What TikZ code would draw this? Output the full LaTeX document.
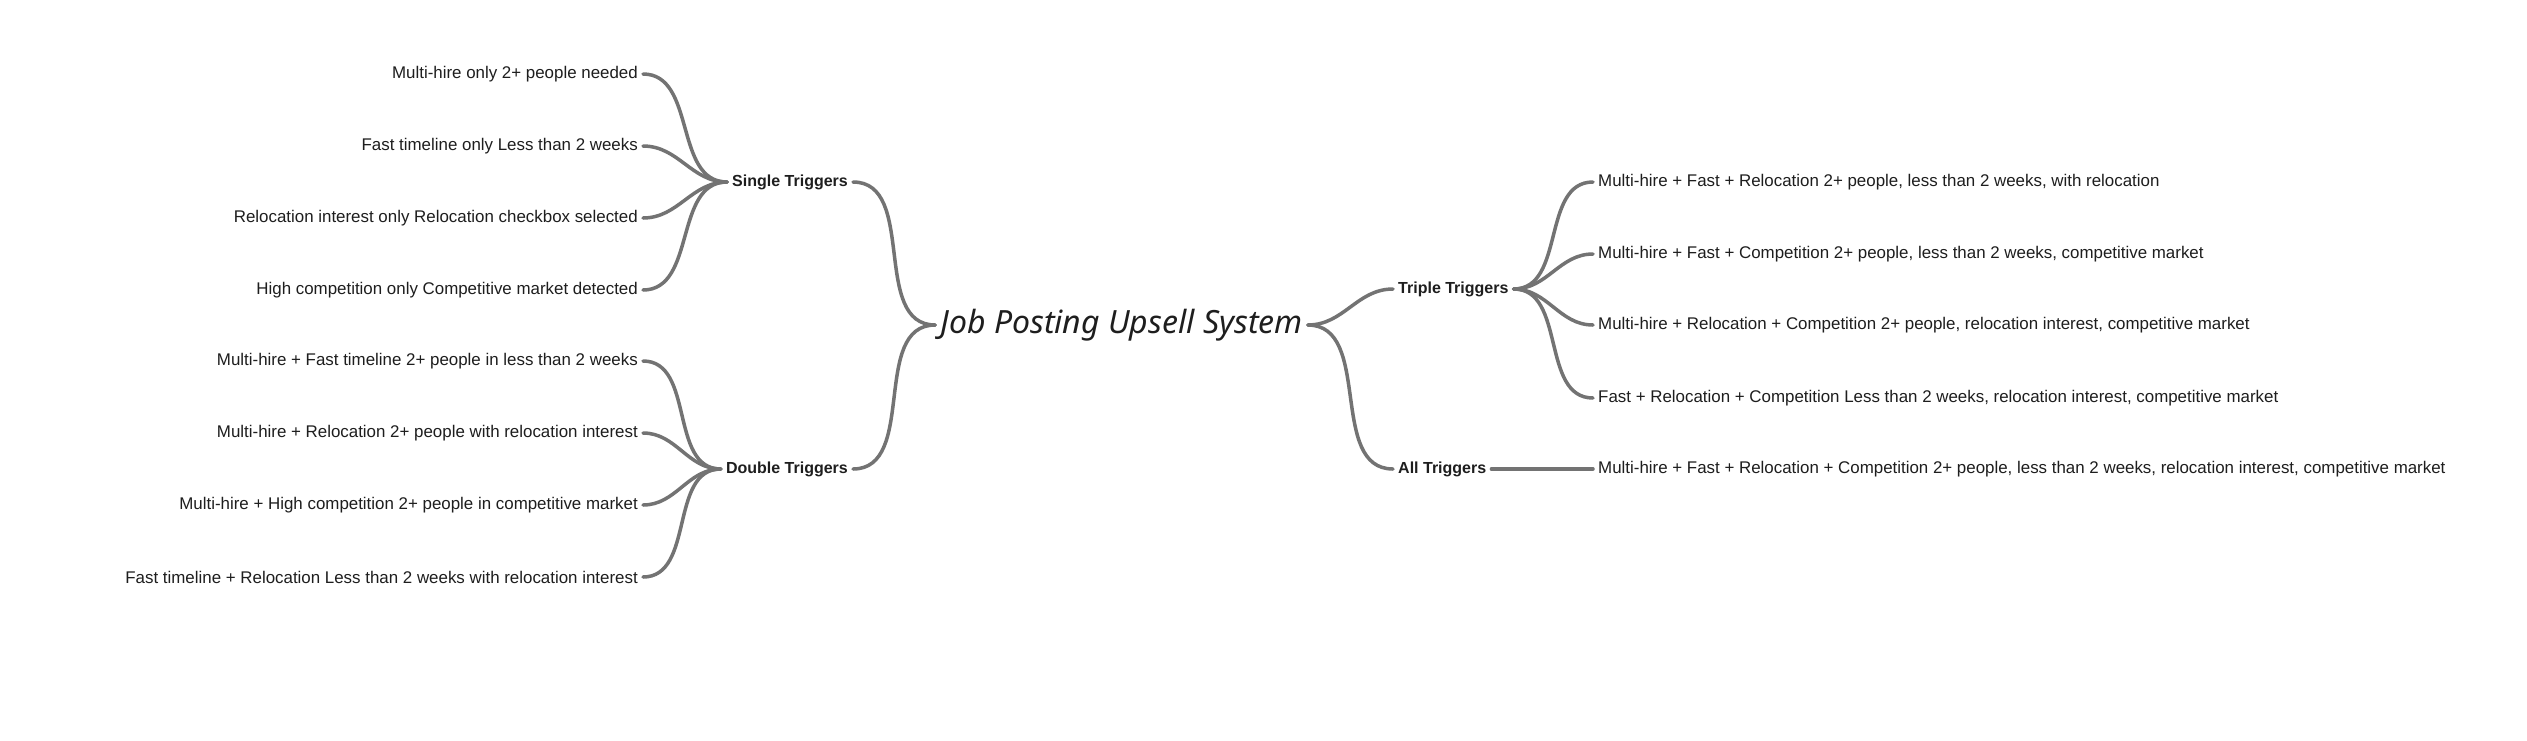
\documentclass[tikz,border=0pt]{standalone}
\usepackage{fontspec}
\setmainfont{Liberation Sans}
\newfontfamily\handfont{Noto Sans}
\definecolor{linec}{HTML}{737373}
\definecolor{txt}{HTML}{1E1E1E}
\begin{document}
\begin{tikzpicture}[x=1pt,y=-1pt,
 leaf/.style={inner xsep=5pt, inner ysep=2pt, text=txt, font=\fontsize{16.9}{20}\selectfont},
 mid/.style={inner xsep=5pt, inner ysep=2pt, text=txt, font=\fontsize{16}{20}\selectfont\bfseries},
 root/.style={inner xsep=5pt, text=txt, font=\fontsize{32}{38}\selectfont\handfont\itshape},
 link/.style={draw=linec, line width=3.5pt, line cap=round}]
\fill[white] (0,0) rectangle (2527,740);
\useasboundingbox (0,0) rectangle (2527,740);

\node[root] (c) at (1121.5,325) {Job Posting Upsell System};

\node[mid, anchor=east] (s) at (853,182) {Single Triggers};
\node[mid, anchor=east] (d) at (853,469) {Double Triggers};
\node[mid, anchor=west] (t) at (1393,289) {Triple Triggers};
\node[mid, anchor=west] (a) at (1393,469) {All Triggers};

\node[leaf, anchor=east] (s1) at (643,74) {Multi-hire only 2+ people needed};
\node[leaf, anchor=east] (s2) at (643,146) {Fast timeline only Less than 2 weeks};
\node[leaf, anchor=east] (s3) at (643,218) {Relocation interest only Relocation checkbox selected};
\node[leaf, anchor=east] (s4) at (643,290) {High competition only Competitive market detected};

\node[leaf, anchor=east] (d1) at (643,361) {Multi-hire + Fast timeline 2+ people in less than 2 weeks};
\node[leaf, anchor=east] (d2) at (643,433) {Multi-hire + Relocation 2+ people with relocation interest};
\node[leaf, anchor=east] (d3) at (643,505) {Multi-hire + High competition 2+ people in competitive market};
\node[leaf, anchor=east] (d4) at (643,577) {Fast timeline + Relocation Less than 2 weeks with relocation interest};

\node[leaf, anchor=west] (t1) at (1593,182) {Multi-hire + Fast + Relocation 2+ people, less than 2 weeks, with relocation};
\node[leaf, anchor=west] (t2) at (1593,254) {Multi-hire + Fast + Competition 2+ people, less than 2 weeks, competitive market};
\node[leaf, anchor=west] (t3) at (1593,325) {Multi-hire + Relocation + Competition 2+ people, relocation interest, competitive market};
\node[leaf, anchor=west] (t4) at (1593,398) {Fast + Relocation + Competition Less than 2 weeks, relocation interest, competitive market};

\node[leaf, anchor=west] (a1) at (1593,469) {Multi-hire + Fast + Relocation + Competition 2+ people, less than 2 weeks, relocation interest, competitive market};

\foreach \l in {s1,s2,s3,s4} \draw[link] (\l.east) to[out=0,in=180] (s.west);
\foreach \l in {d1,d2,d3,d4} \draw[link] (\l.east) to[out=0,in=180] (d.west);
\draw[link] (s.east) to[out=0,in=180] (c.west);
\draw[link] (d.east) to[out=0,in=180] (c.west);
\draw[link] (c.east) to[out=0,in=180] (t.west);
\draw[link] (c.east) to[out=0,in=180] (a.west);
\foreach \l in {t1,t2,t3,t4} \draw[link] (t.east) to[out=0,in=180] (\l.west);
\draw[link] (a.east) -- (a1.west);
\end{tikzpicture}
\end{document}
